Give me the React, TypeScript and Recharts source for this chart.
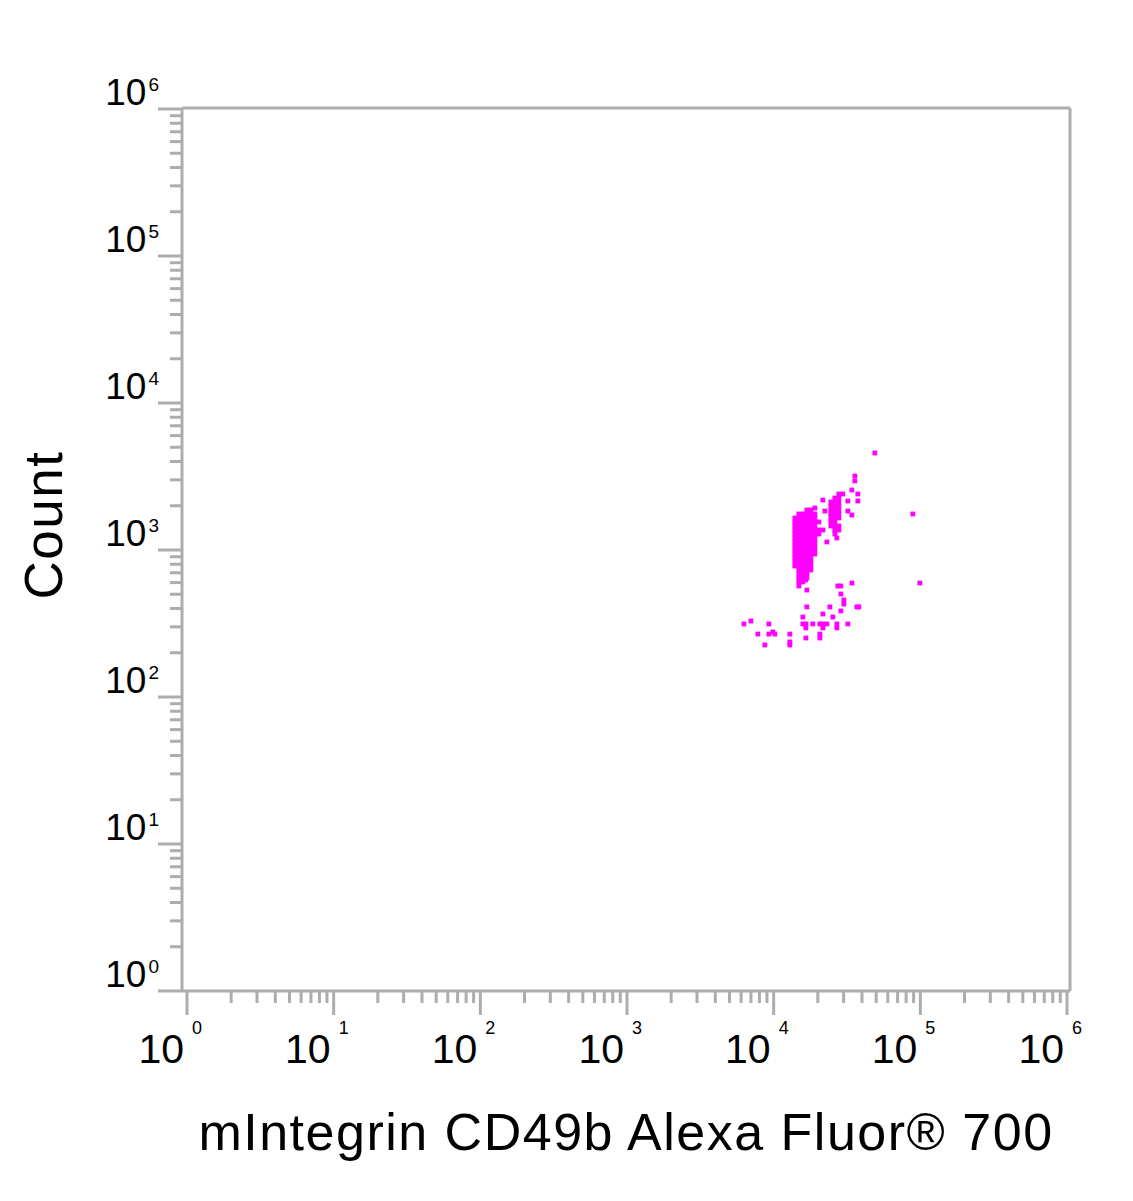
import React from "react";
import { ScatterChart, Scatter, XAxis, YAxis } from "recharts";

// axis decades and minor steps (log axes, 10^0 .. 10^6)
const decades = [0, 1, 2, 3, 4, 5, 6];
const minorSteps = [2, 3, 4, 5, 6, 7, 8, 9];

const xTitle = "mIntegrin CD49b Alexa Fluor® 700";
const yTitle = "Count";

// dense main population [x, y]
const mainCluster: [number, number][] = [
  [16840, 1871], [17930, 1871],
  [14850, 1758], [15810, 1758], [16840, 1758], [17930, 1758], [19090, 1758],
  [13950, 1651], [14850, 1651], [15810, 1651], [16840, 1651], [17930, 1651], [19090, 1651],
  [13950, 1551], [14850, 1551], [15810, 1551], [16840, 1551], [17930, 1551], [19090, 1551], [20330, 1551],
  [13950, 1457], [14850, 1457], [15810, 1457], [16840, 1457], [17930, 1457], [19090, 1457],
  [13950, 1368], [14850, 1368], [15810, 1368], [16840, 1368], [17930, 1368], [19090, 1368], [20330, 1368],
  [13950, 1285], [14850, 1285], [15810, 1285], [16840, 1285], [17930, 1285], [19090, 1285], [20330, 1285],
  [13950, 1207], [14850, 1207], [15810, 1207], [16840, 1207], [17930, 1207], [19090, 1207],
  [13950, 1134], [14850, 1134], [15810, 1134], [16840, 1134], [17930, 1134], [19090, 1134],
  [13950, 1065], [14850, 1065], [15810, 1065], [16840, 1065], [17930, 1065], [19090, 1065],
  [13950, 1000], [14850, 1000], [15810, 1000], [16840, 1000], [17930, 1000], [19090, 1000],
  [13950, 939], [14850, 939], [15810, 939], [16840, 939], [17930, 939], [19090, 939],
  [13950, 882], [14850, 882], [15810, 882], [16840, 882], [17930, 882],
  [13950, 829], [14850, 829], [15810, 829], [16840, 829], [17930, 829],
  [13950, 778], [14850, 778], [15810, 778], [16840, 778], [17930, 778],
  [14850, 731], [15810, 731], [16840, 731], [17930, 731],
  [14850, 687], [15810, 687], [16840, 687],
  [14850, 645], [15810, 645], [16840, 645],
  [14850, 606], [15810, 606],
  [14850, 569],
];

// second, smaller population to the right
const sideCluster: [number, number][] = [
  [27830, 2404], [29630, 2404],
  [26140, 2258], [27830, 2258],
  [24550, 2121], [26140, 2121], [27830, 2121],
  [24550, 1992], [26140, 1992], [27830, 1992],
  [24550, 1871], [26140, 1871], [27830, 1871],
  [24550, 1758], [26140, 1758], [27830, 1758],
  [24550, 1651], [26140, 1651], [27830, 1651],
  [24550, 1551], [26140, 1551],
  [24550, 1457], [26140, 1457], [27830, 1457],
  [26140, 1368], [27830, 1368],
  [26140, 1285],
];

// scattered events
const strayEvents: [number, number][] = [
  [48970, 4570], [35770, 3186], [35770, 2947], [34130, 2560], [37500, 2404],
  [37500, 2154], [32040, 2154], [32040, 1842], [34130, 1731], [88900, 1758],
  [21650, 2188], [19090, 1931], [22340, 1842], [21650, 1368], [26970, 1207],
  [23050, 1134], [16500, 625], [16840, 534], [27390, 569], [28720, 569],
  [34130, 596], [99200, 596], [28720, 502], [30100, 457], [30100, 429],
  [16840, 410], [24160, 410], [36910, 410], [38080, 410], [28720, 385],
  [21650, 367], [15810, 350], [25330, 350], [6995, 329], [6265, 314],
  [9276, 314], [15810, 314], [16580, 314], [18500, 314], [20650, 314],
  [21650, 314], [23050, 314], [26970, 314], [32040, 314], [16580, 295],
  [21650, 295], [26970, 295], [9876, 277], [10190, 268], [9276, 268],
  [7804, 268], [12890, 268], [20650, 268], [20650, 252], [16580, 252],
  [12890, 237], [12890, 226], [8710, 226],
];

const events = [...mainCluster, ...sideCluster, ...strayEvents].map(([x, y]) => ({ x, y }));

const majorTicks = decades.map((d) => Math.pow(10, d));
const minorTicks = decades.slice(0, -1).flatMap((d) => minorSteps.map((k) => k * Math.pow(10, d)));
const allTicks = [...majorTicks, ...minorTicks].sort((a, b) => a - b);

const GRAY = "#adadad";
const FONT = "'Liberation Sans', Arial, sans-serif";
const PLOT_LEFT = 182;
const PLOT_BOTTOM = 991;

const isMajor = (v: number) => majorTicks.some((m) => Math.abs(m - v) < 1e-6 * m);

function XTick(props: any) {
  const { x, payload } = props;
  const v = payload.value;
  const major = isMajor(v);
  const exp = Math.round(Math.log10(v));
  return (
    <g>
      <line x1={x} x2={x} y1={PLOT_BOTTOM} y2={PLOT_BOTTOM + (major ? 24 : 12)} stroke={GRAY} strokeWidth={3} />
      {major && (
        <>
          <text x={x - 3} y={1063} textAnchor="end" fontSize={41} fontFamily={FONT} fill="#000">
            10
          </text>
          <text x={x + 5} y={1034} fontSize={18} fontFamily={FONT} fill="#000">
            {exp}
          </text>
        </>
      )}
    </g>
  );
}

function YTick(props: any) {
  const { y, payload } = props;
  const v = payload.value;
  const major = isMajor(v);
  const exp = Math.round(Math.log10(v));
  return (
    <g>
      <line x1={PLOT_LEFT - (major ? 24 : 12)} x2={PLOT_LEFT} y1={y} y2={y} stroke={GRAY} strokeWidth={3} />
      {major && (
        <text x={159} y={y - 4} textAnchor="end" fontSize={37} fontFamily={FONT} fill="#000">
          10
          <tspan dx={2} dy={-14} fontSize={19}>
            {exp}
          </tspan>
        </text>
      )}
    </g>
  );
}

export default function App() {
  return (
    <div style={{ width: 1133, height: 1200 }}>
      <style>{"body{margin:0}"}</style>
      <ScatterChart width={1133} height={1200} margin={{ top: 107, right: 62, bottom: 0, left: 0 }}>
        <XAxis
          dataKey="x"
          type="number"
          scale="log"
          domain={[1, 1000000]}
          ticks={allTicks}
          interval={0}
          padding={{ left: 5, right: 3 }}
          height={209}
          axisLine={{ stroke: GRAY, strokeWidth: 3 }}
          tickLine={false}
          tick={<XTick />}
          label={{
            content: () => (
              <text x={626} y={1150} textAnchor="middle" fontSize={52} letterSpacing={1.5} fontFamily={FONT} fill="#000">
                {xTitle}
              </text>
            ),
          }}
        />
        <YAxis
          dataKey="y"
          type="number"
          scale="log"
          domain={[1, 1000000]}
          ticks={allTicks}
          interval={0}
          padding={{ top: 1, bottom: 0 }}
          width={182}
          axisLine={{ stroke: GRAY, strokeWidth: 3 }}
          tickLine={false}
          tick={<YTick />}
          label={{
            content: () => (
              <text
                x={62}
                y={525}
                transform="rotate(-90 62 525)"
                textAnchor="middle"
                fontSize={53}
                letterSpacing={1.5}
                fontFamily={FONT}
                fill="#000"
              >
                {yTitle}
              </text>
            ),
          }}
        />
        <XAxis
          xAxisId="top"
          orientation="top"
          type="number"
          scale="log"
          domain={[1, 1000000]}
          height={1}
          tick={false}
          tickLine={false}
          axisLine={{ stroke: GRAY, strokeWidth: 3 }}
        />
        <YAxis
          yAxisId="right"
          orientation="right"
          type="number"
          scale="log"
          domain={[1, 1000000]}
          width={1}
          tick={false}
          tickLine={false}
          axisLine={{ stroke: GRAY, strokeWidth: 3 }}
        />
        <Scatter
          data={events}
          isAnimationActive={false}
          shape={(p: any) => <rect x={p.cx - 2.4} y={p.cy - 2.4} width={4.8} height={4.8} fill="#ff00ff" />}
        />
      </ScatterChart>
    </div>
  );
}
